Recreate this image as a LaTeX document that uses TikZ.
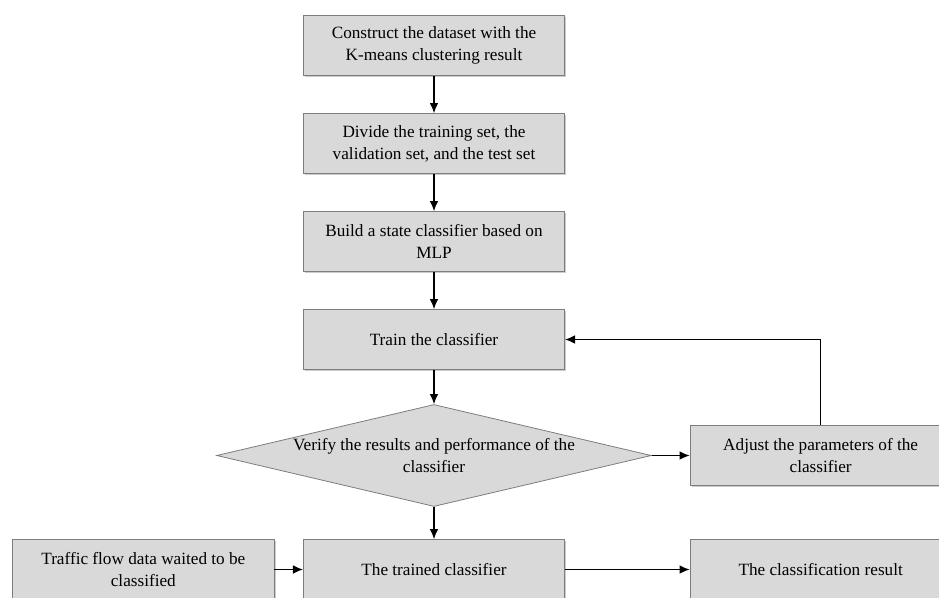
\documentclass[tikz,border=0pt]{standalone}
\usepackage{fontspec}
\setmainfont{Liberation Serif}
\usetikzlibrary{positioning}
\usetikzlibrary{shapes.geometric}
\usetikzlibrary{shadows}
\usetikzlibrary{arrows.meta}
\definecolor{boxfill}{RGB}{217,217,217}
\definecolor{boxline}{RGB}{125,125,125}
\tikzset{
  stepbox/.style={draw=boxline,fill=boxfill,line width=0.6pt,minimum width=196pt,minimum height=45pt,align=center,
    drop shadow={shadow xshift=1.3pt,shadow yshift=-1.3pt,fill=black!40,opacity=.5}},
  decision/.style={diamond,draw=boxline,fill=boxfill,line width=0.6pt,inner sep=0pt,minimum width=326pt,minimum height=76.5pt},
  flow/.style={-{Latex[length=7.5pt,width=6.5pt]},line width=0.9pt}
}
\begin{document}
\begin{tikzpicture}[x=0.75pt,y=-0.75pt,node distance=73.5pt,
  every node/.style={font=\fontsize{12.9}{16.3}\selectfont}]
  \useasboundingbox (0,0) rectangle (939,597);
  \clip (0,0) rectangle (939,597);
  \node[stepbox] (construct) at (434,45.5) {Construct the dataset with the\\K-means clustering result};
  \node[stepbox,below of=construct] (divide) {Divide the training set, the\\validation set, and the test set};
  \node[stepbox,below of=divide] (build) {Build a state classifier based on\\MLP};
  \node[stepbox,below of=build] (train) {Train the classifier};
  \node[decision,below of=train,node distance=87pt] (verify) {};
  \node[align=center] (verifytext) at (verify) {Verify the results and performance of the\\classifier};
  \node[stepbox,right of=verify,node distance=290pt] (adjust) {Adjust the parameters of the\\classifier};
  \node[stepbox,below of=verify,node distance=85.5pt] (trained) {The trained classifier};
  \node[stepbox,left of=trained,node distance=218pt] (traffic) {Traffic flow data waited to be\\classified};
  \node[stepbox,right of=trained,node distance=290pt] (result) {The classification result};

  \draw[flow] (construct)--(divide);
  \draw[flow] (divide)--(build);
  \draw[flow] (build)--(train);
  \draw[flow] (train)--(verify);
  \draw[flow] (verify.east)--(adjust);
  \draw[flow] (adjust.north)|-(train.east);
  \draw[flow] (verify.south)--(trained);
  \draw[flow] (traffic)--(trained);
  \draw[flow] (trained)--(result);
\end{tikzpicture}
\end{document}
